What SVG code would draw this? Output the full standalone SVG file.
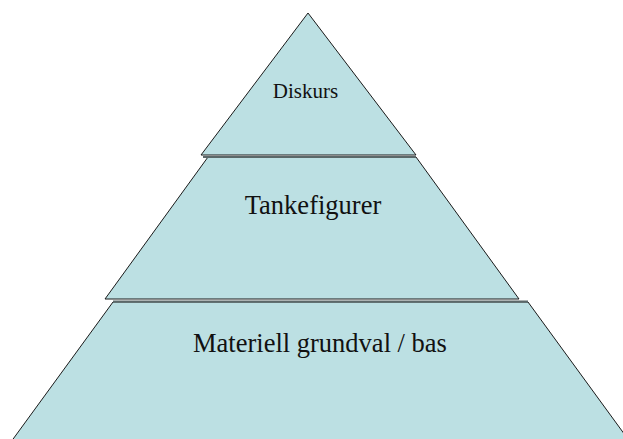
<svg xmlns="http://www.w3.org/2000/svg" width="623" height="439" viewBox="0 0 623 439">
<style>
.lvl{fill:#bce0e3;stroke:#1a1a1a;stroke-width:1}
.edge{stroke:#5b6869;stroke-width:2;fill:none}
.t{font-family:"Liberation Serif","Times New Roman",serif;fill:#111;text-anchor:middle}
</style>
<rect width="623" height="439" fill="#fff"/>
<g id="bottom">
<polygon class="lvl" points="113,302 528,302 633,446 8,446"/>
<line class="edge" x1="113" y1="301.5" x2="528" y2="301.5"/>
<text class="t" x="320" y="352" font-size="26.5">Materiell grundval / bas</text>
</g>
<g id="middle">
<polygon class="lvl" points="208,157 416,157 519,299 105,299"/>
<line class="edge" x1="203" y1="157" x2="416" y2="157"/>
<text class="t" x="313" y="214" font-size="26.5">Tankefigurer</text>
</g>
<g id="top">
<polygon class="lvl" points="308,13 416,155 201,155"/>
<text class="t" x="305.5" y="98" font-size="21">Diskurs</text>
</g>
<g id="connectors"></g>
</svg>
